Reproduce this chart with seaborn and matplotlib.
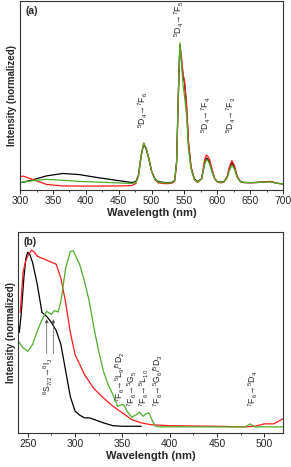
import numpy as np
import pandas as pd
import matplotlib
matplotlib.use("Agg")
import matplotlib.pyplot as plt
from matplotlib.ticker import MultipleLocator
import seaborn as sns

# ---------------- Panel (a): emission ----------------
a_wl = [300, 305, 320, 340, 365, 390, 420, 450, 470, 476, 480, 484, 488, 492, 496, 500, 505, 510, 520, 530,
        535, 538, 541, 543, 545, 548, 550, 553, 556, 560, 565, 570, 576, 580, 583, 585, 588, 592, 596, 600,
        605, 610, 615, 618, 622, 626, 630, 635, 640, 650, 660, 670, 680, 685, 690, 700]
a_black = [0.039, 0.042, 0.055, 0.075, 0.088, 0.082, 0.065, 0.050, 0.040, 0.045, 0.080, 0.18, 0.245, 0.215, 0.16, 0.10, 0.06, 0.045, 0.040, 0.040,
           0.05, 0.15, 0.55, 0.77, 0.70, 0.60, 0.57, 0.45, 0.25, 0.12, 0.06, 0.045, 0.06, 0.13, 0.17, 0.165, 0.15, 0.10, 0.06, 0.045,
           0.042, 0.045, 0.07, 0.11, 0.145, 0.12, 0.07, 0.045, 0.040, 0.039, 0.040, 0.043, 0.045, 0.042, 0.036, 0.033]
a_red = [0.071, 0.074, 0.055, 0.030, 0.022, 0.021, 0.021, 0.022, 0.024, 0.035, 0.075, 0.18, 0.250, 0.220, 0.165, 0.10, 0.055, 0.038, 0.034, 0.035,
         0.045, 0.14, 0.54, 0.77, 0.72, 0.61, 0.58, 0.46, 0.26, 0.12, 0.055, 0.040, 0.06, 0.15, 0.186, 0.180, 0.165, 0.11, 0.06, 0.042,
         0.038, 0.042, 0.07, 0.12, 0.156, 0.13, 0.075, 0.045, 0.040, 0.039, 0.040, 0.043, 0.046, 0.042, 0.036, 0.033]
a_green = [0.039, 0.043, 0.050, 0.057, 0.052, 0.046, 0.042, 0.038, 0.035, 0.040, 0.075, 0.18, 0.248, 0.220, 0.165, 0.10, 0.058, 0.042, 0.038, 0.038,
           0.048, 0.15, 0.56, 0.78, 0.69, 0.55, 0.50, 0.40, 0.22, 0.11, 0.055, 0.042, 0.06, 0.13, 0.160, 0.158, 0.140, 0.095, 0.058, 0.044,
           0.040, 0.043, 0.065, 0.10, 0.133, 0.11, 0.068, 0.045, 0.041, 0.040, 0.041, 0.042, 0.043, 0.041, 0.036, 0.033]

# ---------------- Panel (b): excitation ----------------
b_black_wl = [240, 241, 243, 246, 248, 250, 252, 255, 260, 265, 270, 275, 280, 285, 290, 295, 300, 305, 310, 315, 320, 330, 340, 350, 360, 370]
b_black = [0.54, 0.50, 0.59, 0.78, 0.87, 0.90, 0.89, 0.85, 0.74, 0.60, 0.58, 0.55, 0.51, 0.44, 0.31, 0.18, 0.108, 0.088, 0.075, 0.075, 0.067, 0.05, 0.036, 0.033, 0.033, 0.033]

b_red_wl = [242, 245, 248, 251, 254, 257, 260, 270, 280, 285, 290, 295, 300, 310, 320, 330, 340, 350, 360, 370, 380, 400, 450, 480, 490, 500, 510, 515, 520]
b_red = [0.60, 0.80, 0.86, 0.89, 0.91, 0.90, 0.88, 0.86, 0.84, 0.77, 0.65, 0.50, 0.39, 0.29, 0.22, 0.174, 0.133, 0.100, 0.066, 0.050, 0.041, 0.036, 0.033, 0.030, 0.033, 0.045, 0.045, 0.058, 0.071]

b_green_wl = [240, 245, 250, 255, 260, 265, 270, 275, 278, 282, 285, 290, 295, 298, 300, 305, 310, 315, 320, 325, 330, 335, 340, 345, 350,
              352, 355, 360, 365, 368, 372, 375, 378, 382, 385, 390, 420, 450, 480, 485, 490, 500, 520]
b_green = [0.456, 0.423, 0.406, 0.440, 0.506, 0.564, 0.605, 0.590, 0.609, 0.602, 0.655, 0.82, 0.904, 0.907, 0.887, 0.837, 0.754, 0.655, 0.522, 0.406, 0.307, 0.240, 0.191, 0.133, 0.141,
           0.136, 0.108, 0.078, 0.091, 0.104, 0.083, 0.095, 0.100, 0.058, 0.033, 0.030, 0.030, 0.030, 0.030, 0.045, 0.030, 0.030, 0.030]

sns.set_theme(style="ticks")
plt.rcParams['font.family'] = ['Liberation Sans', 'DejaVu Sans']
plt.rcParams['mathtext.fontset'] = 'custom'
plt.rcParams['mathtext.rm'] = 'Liberation Sans'
plt.rcParams['mathtext.default'] = 'regular'

fig = plt.figure(figsize=(2.91, 4.67), dpi=100)
ax1 = fig.add_axes([0.069, 0.593, 0.904, 0.404])
ax2 = fig.add_axes([0.063, 0.073, 0.910, 0.430])

dfa = pd.DataFrame({"wl": a_wl, "black": a_black, "red": a_red, "green": a_green})
sns.lineplot(data=dfa, x="wl", y="black", ax=ax1, color="black", lw=0.9)
sns.lineplot(data=dfa, x="wl", y="red", ax=ax1, color="#ff1a1a", lw=0.9)
sns.lineplot(data=dfa, x="wl", y="green", ax=ax1, color="#4caf28", lw=0.9)

sns.lineplot(x=b_black_wl, y=b_black, ax=ax2, color="black", lw=0.9)
sns.lineplot(x=b_red_wl, y=b_red, ax=ax2, color="#ff1a1a", lw=0.9)
sns.lineplot(x=b_green_wl, y=b_green, ax=ax2, color="#4caf28", lw=0.9)

for ax, (lo, hi), lab in [(ax1, (300, 700), "(a)"), (ax2, (240, 520), "(b)")]:
    ax.set_xlim(lo, hi)
    ax.set_ylim(0, 1)
    ax.set_yticks([])
    ax.xaxis.set_major_locator(MultipleLocator(50))
    ax.xaxis.set_minor_locator(MultipleLocator(25))
    ax.tick_params(axis='x', which='major', length=3, width=0.7, labelsize=7.5, pad=1.5, direction='out')
    ax.tick_params(axis='x', which='minor', length=1.5, width=0.6, direction='out')
    ax.set_xlabel("Wavelength (nm)", fontsize=8, fontweight='bold', labelpad=1)
    ax.set_ylabel("Intensity (normalized)", fontsize=7, fontweight='bold', labelpad=2)
    for s in ax.spines.values():
        s.set_linewidth(0.8)
        s.set_color("#333333")
    ax.text(0.02, 0.975, lab, transform=ax.transAxes, fontsize=7.5, fontweight='bold', va='top', ha='left')

fs = 6.2
# panel a labels
ax1.text(488, 0.33, r"$^5$D$_4$→$^7$F$_6$", rotation=90, fontsize=fs, ha='center', va='bottom')
ax1.text(543, 0.81, r"$^5$D$_4$→$^7$F$_5$", rotation=90, fontsize=fs, ha='center', va='bottom')
ax1.text(584, 0.30, r"$^5$D$_4$→$^7$F$_4$", rotation=90, fontsize=fs, ha='center', va='bottom')
ax1.text(622, 0.30, r"$^5$D$_4$→$^7$F$_3$", rotation=90, fontsize=fs, ha='center', va='bottom')

# panel b labels
ax2.annotate("", xy=(270, 0.58), xytext=(270, 0.38), arrowprops=dict(arrowstyle='-|>', lw=0.5, color='#555555', mutation_scale=5))
ax2.annotate("", xy=(277, 0.58), xytext=(277, 0.38), arrowprops=dict(arrowstyle='-|>', lw=0.5, color='#555555', mutation_scale=5))
ax2.text(272, 0.19, r"$^6$S$_{7/2}$→$^6$I$_J$", rotation=90, fontsize=fs, ha='center', va='bottom')
ax2.text(348, 0.155, r"$^7$F$_6$→$^5$L$_9$/$^5$D$_2$", rotation=90, fontsize=fs, ha='center', va='bottom')
ax2.text(360.5, 0.13, r"$^7$F$_6$→$^5$G$_5$", rotation=90, fontsize=fs, ha='center', va='bottom')
ax2.text(373, 0.13, r"$^7$F$_6$→$^5$L$_{10}$", rotation=90, fontsize=fs, ha='center', va='bottom')
ax2.text(388, 0.13, r"$^7$F$_6$→$^5$G$_6$/$^5$D$_3$", rotation=90, fontsize=fs, ha='center', va='bottom')
ax2.text(489, 0.13, r"$^7$F$_6$→$^5$D$_4$", rotation=90, fontsize=fs, ha='center', va='bottom')

fig.savefig("out.png", dpi=100)
